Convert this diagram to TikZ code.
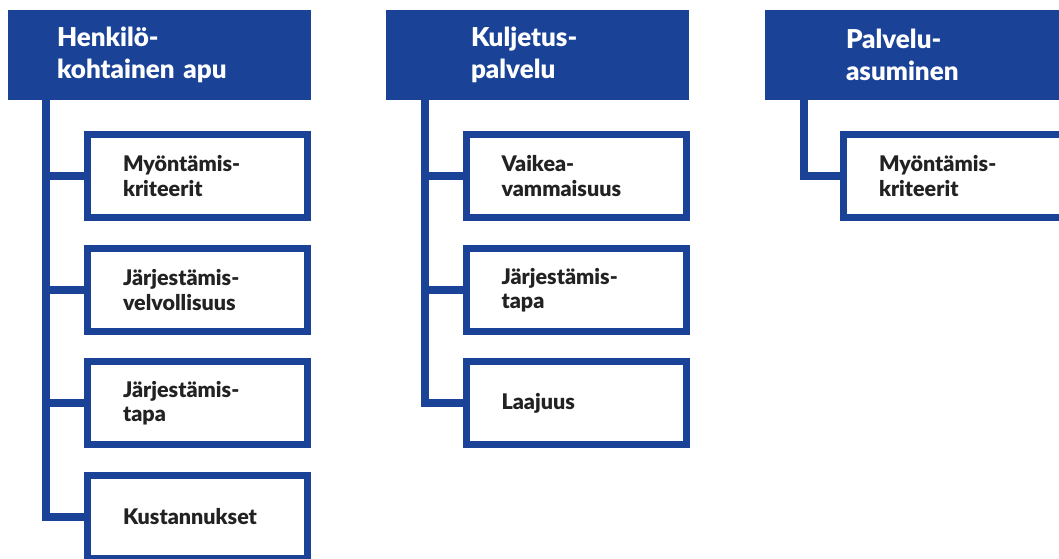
\documentclass[tikz,border=0pt]{standalone}
\usepackage{fontspec}
\setmainfont{Lato}
\newfontfamily\latoblack{Lato Black}
\definecolor{navy}{HTML}{1A4397}
\definecolor{ink}{HTML}{222222}
\tikzset{
  hdr/.style={fill=navy, text=white, minimum height=90pt, inner ysep=0pt,
    align=left, font=\latoblack\fontsize{26}{32}\selectfont},
  sub/.style={draw=navy, line width=7pt, fill=white, text=ink, minimum height=83pt,
    inner xsep=35.5pt, text width=149pt, align=left,
    font=\latoblack\fontsize{21.5}{24.5}\selectfont},
  conn/.style={draw=navy, line width=8pt, line join=miter},
}
\begin{document}
\begin{tikzpicture}[x=1pt,y=-1pt]
\useasboundingbox (0,0) rectangle (1059,558);
% headers
\node[hdr, inner xsep=49pt, text width=205pt] (h1) at (159.5,55) {Henkilö-\\kohtainen apu};
\node[hdr, inner xsep=85pt, text width=133pt] (h2) at (537.5,55) {Kuljetus-\\palvelu};
\node[hdr, inner xsep=81pt, text width=141pt] (h3) at (916.5,55) {Palvelu-\\asuminen};
% trunk tops
\coordinate (t1) at (46,100);
\coordinate (t2) at (425,100);
\coordinate (t3) at (803.5,100);
% connectors (drawn first, boxes on top)
\draw[conn] (t1) |- (197.5,517);
\foreach \y in {176,290,403} \draw[conn] (46,\y) -- (90,\y);
\draw[conn] (t2) |- (576,403);
\foreach \y in {176,290} \draw[conn] (425,\y) -- (469,\y);
\draw[conn] (t3) |- (953.5,176);
% column 1
\node[sub] (a1) at (197.5,176) {Myöntämis-\\kriteerit};
\node[sub] (a2) at (197.5,290) {Järjestämis-\\velvollisuus};
\node[sub] (a3) at (197.5,403) {Järjestämis-\\tapa};
\node[sub] (a4) at (197.5,517) {Kustannukset};
% column 2
\node[sub] (b1) at (576,176) {Vaikea-\\vammaisuus};
\node[sub] (b2) at (576,290) {Järjestämis-\\tapa};
\node[sub] (b3) at (576,403) {Laajuus};
% column 3
\node[sub] (c1) at (953.5,176) {Myöntämis-\\kriteerit};
\end{tikzpicture}
\end{document}
